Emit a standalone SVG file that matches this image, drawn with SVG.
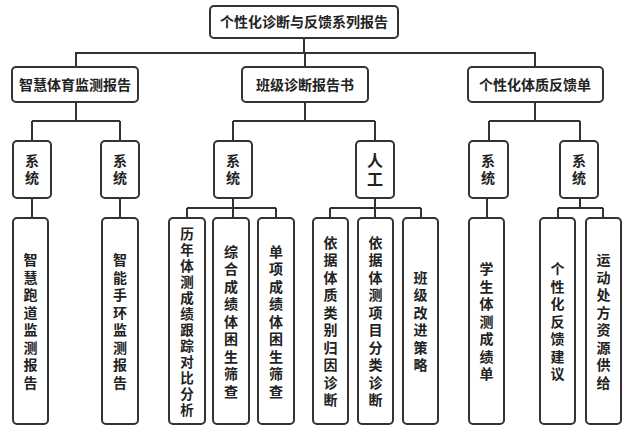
<svg xmlns="http://www.w3.org/2000/svg" width="631" height="434" viewBox="0 0 631 434">
<style>
rect{fill:#fff;stroke:#333;stroke-width:2}
text{font-family:"Noto Sans CJK SC",sans-serif;font-weight:bold;fill:#222;text-anchor:middle}
.h{font-size:14px}
.v{font-size:14px;writing-mode:vertical-rl;letter-spacing:3.5px}
.c path{fill:none;stroke:#333;stroke-width:2}
</style>
<rect x="0" y="0" width="631" height="434" style="fill:#fff;stroke:none"/>
<g class="c" id="connectors">
<path d="M304 38V53M76 67V53H535V67M305 53V67"/>
<path d="M76 102V121M32 121H120M32 121V140M120 121V140"/>
<path d="M305 102V121M233 121H375M233 121V140M375 121V140"/>
<path d="M535 102V121M489 121H580M489 121V140M580 121V140"/>
<path d="M32 198V218M120 198V218"/>
<path d="M233 198V218M187 208H276M187 208V218M276 208V218"/>
<path d="M375 198V218M330 208H421M330 208V218M421 208V218"/>
<path d="M487 198V218"/>
<path d="M580 198V208M558 208H603M558 208V218M603 208V218"/>
</g>
<g id="root"><rect x="210" y="6" width="188" height="32" rx="4"/><text class="h" x="304" y="27">个性化诊断与反馈系列报告</text></g>
<g id="n1"><rect x="12" y="67" width="126" height="35" rx="4"/><text class="h" x="75" y="90">智慧体育监测报告</text></g>
<g id="n2"><rect x="242" y="67" width="126" height="35" rx="4"/><text class="h" x="305" y="90">班级诊断报告书</text></g>
<g id="n3"><rect x="468" y="67" width="135" height="35" rx="4"/><text class="h" x="535" y="90">个性化体质反馈单</text></g>
<g id="s1"><rect x="13" y="141" width="38" height="57" rx="4"/><text class="v" x="32" y="171">系统</text></g>
<g id="s2"><rect x="101" y="141" width="38" height="57" rx="4"/><text class="v" x="120" y="171">系统</text></g>
<g id="s3"><rect x="214" y="141" width="38" height="57" rx="4"/><text class="v" x="233" y="171">系统</text></g>
<g id="s4"><rect x="356" y="141" width="38" height="57" rx="4"/><text class="v" style="font-size:16px" x="375" y="171">人工</text></g>
<g id="s5"><rect x="469" y="141" width="39" height="57" rx="4"/><text class="v" x="488" y="171">系统</text></g>
<g id="s6"><rect x="560" y="141" width="38" height="57" rx="4"/><text class="v" x="579" y="171">系统</text></g>
<g id="l1"><rect x="13" y="218" width="35" height="206" rx="4"/><text class="v" x="30.5" y="323">智慧跑道监测报告</text></g>
<g id="l2"><rect x="102" y="218" width="36" height="206" rx="4"/><text class="v" x="120" y="323">智能手环监测报告</text></g>
<g id="l3"><rect x="169" y="218" width="36" height="206" rx="4"/><text class="v" style="font-size:13.5px;letter-spacing:2.5px" x="187" y="323">历年体测成绩跟踪对比分析</text></g>
<g id="l4"><rect x="213" y="218" width="36" height="206" rx="4"/><text class="v" x="231" y="323">综合成绩体困生筛查</text></g>
<g id="l5"><rect x="258" y="218" width="36" height="206" rx="4"/><text class="v" x="276" y="323">单项成绩体困生筛查</text></g>
<g id="l6"><rect x="313" y="218" width="35" height="206" rx="4"/><text class="v" x="330.5" y="323">依据体质类别归因诊断</text></g>
<g id="l7"><rect x="358" y="218" width="35" height="206" rx="4"/><text class="v" x="375.5" y="323">依据体测项目分类诊断</text></g>
<g id="l8"><rect x="403" y="218" width="35" height="206" rx="4"/><text class="v" x="420.5" y="323">班级改进策略</text></g>
<g id="l9"><rect x="469" y="218" width="35" height="206" rx="4"/><text class="v" x="486.5" y="323">学生体测成绩单</text></g>
<g id="l10"><rect x="540" y="218" width="35" height="206" rx="4"/><text class="v" x="557.5" y="323">个性化反馈建议</text></g>
<g id="l11"><rect x="586" y="218" width="35" height="206" rx="4"/><text class="v" x="603.5" y="323">运动处方资源供给</text></g>
</svg>
